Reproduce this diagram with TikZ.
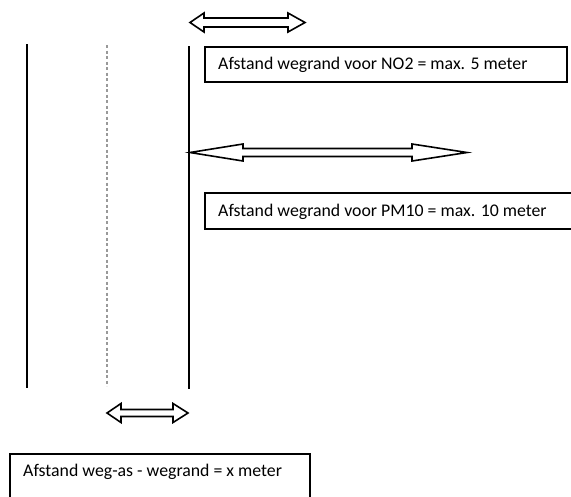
\documentclass[tikz,border=0pt]{standalone}
\usepackage{fontspec}
\setmainfont{Carlito}
\begin{document}
\begin{tikzpicture}[x=1pt,y=-1pt,
  roadline/.style={line width=1.6pt,black},
  axisline/.style={line width=1.5pt,gray!80,dash pattern=on 3pt off 2.5pt},
  boxline/.style={line width=1.5pt,black},
  dblarrow/.style={line width=1.6pt,black,fill=white,line join=miter},
  lbl/.style={font=\fontsize{17.8}{20}\selectfont,anchor=west,inner sep=0pt}]
\useasboundingbox (0,0) rectangle (571,496);
% road lines
\coordinate (l1) at (27,44); \coordinate (l2) at (27,388);
\coordinate (m1) at (107,45); \coordinate (m2) at (107,386);
\coordinate (r1) at (189,46); \coordinate (r2) at (189,389);
\draw[roadline] (l1) -- (l2);
\draw[axisline] (m1) -- (m2);
\draw[roadline] (r1) -- (r2);
% top double arrow
\draw[dblarrow] (190,22.5) -- (204,13) -- (204,18) -- (288,18) -- (288,13) -- (305,22.5)
  -- (288,32) -- (288,27) -- (204,27) -- (204,32) -- cycle;
% middle double arrow
\draw[dblarrow] (190,152.5) -- (243,144) -- (243,148.5) -- (412,148.5) -- (412,144) -- (467,152.5)
  -- (412,161) -- (412,156.5) -- (243,156.5) -- (243,161) -- cycle;
% bottom double arrow
\draw[dblarrow] (107,413) -- (121,403.5) -- (121,409.5) -- (173,409.5) -- (173,403.5) -- (188,413)
  -- (173,422.5) -- (173,416.5) -- (121,416.5) -- (121,422.5) -- cycle;
% boxes
\draw[boxline] (205,47) rectangle (567,82);
\draw[boxline] (572,193) -- (205,193) -- (205,229) -- (572,229);
\draw[boxline] (10,498) -- (10,454) -- (310,454) -- (310,498);
% labels
\node[lbl] (t1) at (218,65) {Afstand wegrand voor NO2 = max. 5 meter};
\node[lbl] (t2) at (218,212) {Afstand wegrand voor PM10 = max. 10 meter};
\node[lbl] (t3) at (23,472) {Afstand weg-as - wegrand = x meter};
\end{tikzpicture}
\end{document}
